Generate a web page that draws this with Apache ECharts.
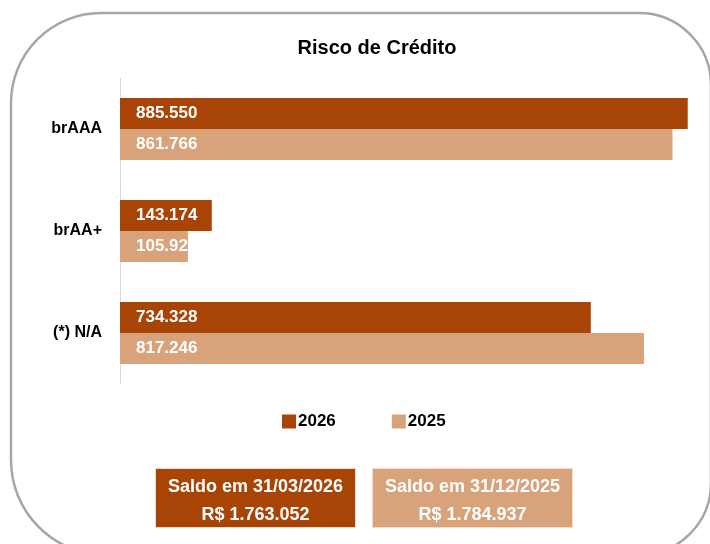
<!DOCTYPE html>
<html>
<head>
<meta charset="utf-8">
<script src="https://cdn.jsdelivr.net/npm/echarts@6/dist/echarts.min.js"></script>
<style>
  html, body { margin: 0; padding: 0; background: #fff; }
  #main { width: 710px; height: 544px; }
</style>
</head>
<body>
<div id="main"></div>
<script>
//----------- Data
const categories = ["brAAA", "brAA+", "(*) N/A"];
const seriesNames = ["2026", "2025"];
const values2026 = [885550, 143174, 734328];
const values2025 = [861766, 105925, 817246];
const boxTitles = ["Saldo em 31/03/2026", "Saldo em 31/12/2025"];
const boxTotals = ["R$ 1.763.052", "R$ 1.784.937"];
//----------- Data

const dark = "#A84506";
const light = "#D8A27B";
const font = "'Liberation Sans', Arial, sans-serif";

// pt-BR thousands separator
const fmt = v => v.toLocaleString("pt-BR");

const myChart = echarts.init(document.getElementById("main"));

//Boxes with totals at the bottom
const boxes = boxTitles.map((t, i) => ({
    type: "group",
    left: i === 0 ? 155 : 372,
    top: 468,
    children: [
        {
            type: "rect",
            shape: {x: 0, y: 0, width: 200, height: 59},
            style: {fill: i === 0 ? dark : light, stroke: "#f3d9c6", lineWidth: 1}
        },
        {
            type: "text",
            x: 100, y: 19,
            style: {text: t, fill: "#fff", font: "bold 18px " + font, align: "center", verticalAlign: "middle"}
        },
        {
            type: "text",
            x: 100, y: 47,
            style: {text: boxTotals[i], fill: "#fff", font: "bold 18px " + font, align: "center", verticalAlign: "middle"}
        }
    ]
}));

const barLabel = {
    show: true,
    position: "insideLeft",
    distance: 16,
    overflow: "none",
    formatter: p => fmt(p.value),
    fontFamily: font, fontSize: 17, fontWeight: "bold", color: "#fff"
};

const option = {
    animation: false,
    title: {
        text: "Risco de Crédito",
        left: 372,
        textAlign: "center",
        top: 33,
        textStyle: {fontFamily: font, fontSize: 20, fontWeight: "bold", color: "#000"}
    },
    legend: {
        data: seriesNames,
        left: 277,
        top: 408,
        icon: "rect",
        itemWidth: 14,
        itemHeight: 14,
        itemGap: 56,
        textStyle: {fontFamily: font, fontSize: 17, fontWeight: "bold", color: "#000", padding: [0, 0, 0, -3]}
    },
    grid: {
        left: 120,
        top: 78,
        width: 577,
        height: 306,
        containLabel: false
    },
    xAxis: {
        type: "value",
        min: 0,
        max: 900000,
        show: false,
        splitLine: {show: false}
    },
    yAxis: {
        type: "category",
        data: categories,
        inverse: true,
        axisLine: {show: true, lineStyle: {color: "#d9d9d9", width: 1}},
        axisTick: {show: false},
        axisLabel: {margin: 18, fontFamily: font, fontSize: 16, fontWeight: "bold", color: "#000"}
    },
    series: [
        {
            name: seriesNames[0],
            type: "bar",
            data: values2026,
            barWidth: 31,
            barGap: "0%",
            itemStyle: {color: dark},
            label: barLabel
        },
        {
            name: seriesNames[1],
            type: "bar",
            data: values2025,
            barWidth: 31,
            barGap: "0%",
            itemStyle: {color: light},
            label: barLabel
        }
    ],
    graphic: [
        {
            type: "rect",
            silent: true,
            shape: {x: 11, y: 13, width: 700, height: 542, r: [90, 72, 72, 95]},
            style: {fill: "none", stroke: "#a6a6a6", lineWidth: 2.5}
        }
    ].concat(boxes)
};

myChart.setOption(option);
</script>
</body>
</html>
